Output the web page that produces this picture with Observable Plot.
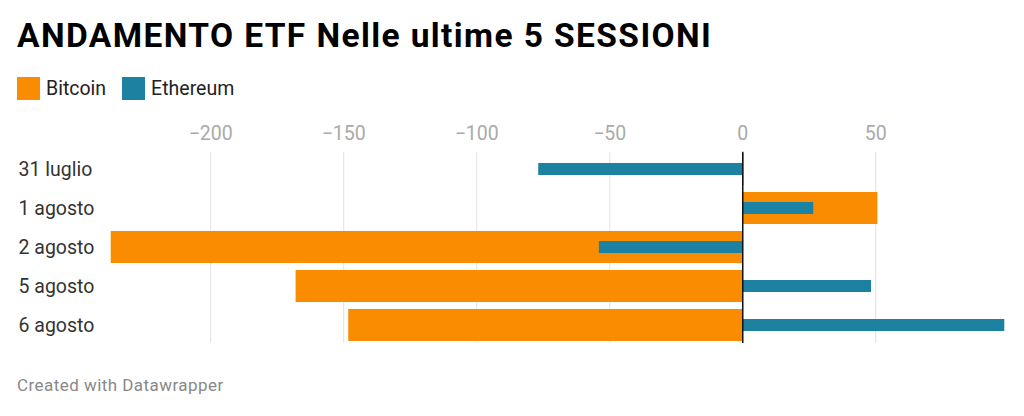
<!DOCTYPE html>
<html>
<head>
<meta charset="utf-8">
<script src="https://cdn.jsdelivr.net/npm/d3@7"></script>
<script src="https://cdn.jsdelivr.net/npm/@observablehq/plot@0.6"></script>
<style>
  html, body { margin: 0; padding: 0; background: #fff; }
  body { width: 1024px; height: 416px; position: relative; overflow: hidden; font-family: Roboto, sans-serif; }
  #title { position: absolute; left: 17px; top: 16px; font-size: 33.5px; font-weight: 700; color: #000; white-space: nowrap; line-height: 40px; letter-spacing: 1.4px; }
  #legend { position: absolute; left: 17px; top: 77px; display: flex; align-items: center; font-size: 19.5px; color: #222; line-height: 23px; }
  #legend .item { display: flex; align-items: center; margin-right: 16px; }
  #legend .sw { width: 23px; height: 23px; margin-right: 6px; }
  #chart { position: absolute; left: 0; top: 110px; }
  #caption { position: absolute; left: 17px; top: 374px; font-size: 17px; color: #888; line-height: 22px; letter-spacing: 0.45px; }
</style>
</head>
<body>
<div id="title">ANDAMENTO ETF Nelle ultime 5 SESSIONI</div>
<div id="legend"></div>
<div id="chart"></div>
<div id="caption">Created with Datawrapper</div>
<script>
const dates = ["31 luglio", "1 agosto", "2 agosto", "5 agosto", "6 agosto"];
const bitcoin = [0.5, 50.8, -237.4, -167.9, -148.1];
const ethereum = [-76.7, 26.7, -53.9, 48.4, 98.5];
const xTicks = [-200, -150, -100, -50, 0, 50];
const seriesNames = ["Bitcoin", "Ethereum"];
const seriesColors = ["#f98c00", "#1d81a2"];

const btcData = dates.map((d, i) => ({date: d, value: bitcoin[i]}));
const ethData = dates.map((d, i) => ({date: d, value: ethereum[i]}));

const legend = document.getElementById("legend");
seriesNames.forEach((n, i) => {
  const it = document.createElement("div");
  it.className = "item";
  it.innerHTML = `<div class="sw" style="background:${seriesColors[i]}"></div><span>${n}</span>`;
  legend.appendChild(it);
});

const xMin = d3.min([...bitcoin, ...ethereum]);
const xMax = d3.max([...bitcoin, ...ethereum]);

const chart = Plot.plot({
  width: 1024,
  height: 240,
  marginTop: 41.7,
  marginBottom: 7,
  marginLeft: 110.7,
  marginRight: 19.7,
  style: {fontFamily: "Roboto, sans-serif", background: "transparent"},
  x: {domain: [xMin, xMax], ticks: xTicks},
  y: {domain: dates, paddingInner: 0.167, paddingOuter: 0, label: null},
  marks: [
    Plot.gridX(xTicks.filter(t => t !== 0), {stroke: "#e2e2e2", strokeOpacity: 1, strokeWidth: 1}),
    Plot.axisX(xTicks, {anchor: "top", tickSize: 0, tickPadding: 12, fontSize: 19.5, fill: "#aaa", label: null}),
    Plot.axisY({anchor: "left", tickSize: 0, tickPadding: 92.7, textAnchor: "start", fontSize: 19.5, fill: "#333", label: null}),
    Plot.barX(btcData, {x: "value", y: "date", fill: seriesColors[0]}),
    Plot.barX(ethData, {x: "value", y: "date", fill: seriesColors[1], insetTop: 10, insetBottom: 10}),
    Plot.ruleX([0], {stroke: "#111", strokeWidth: 1.5})
  ]
});
document.getElementById("chart").appendChild(chart);
</script>
</body>
</html>
